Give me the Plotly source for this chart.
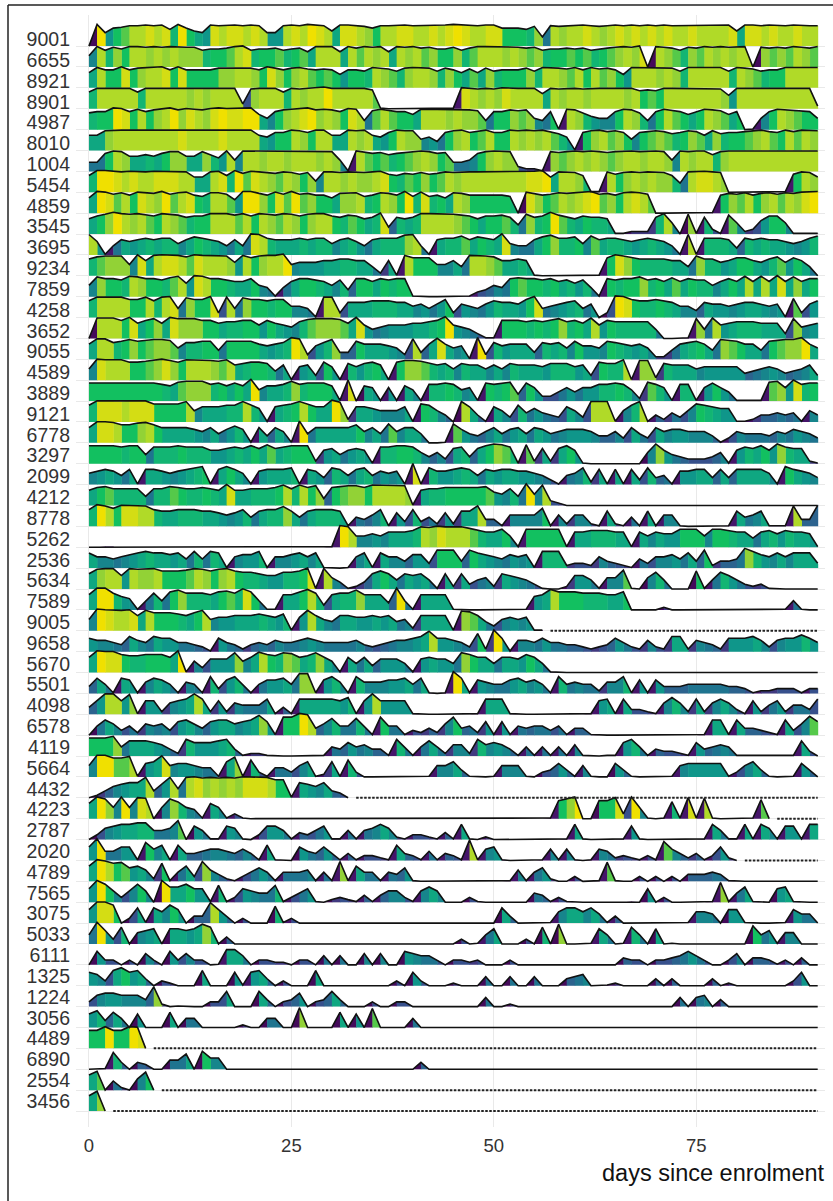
import plotly.graph_objects as go

# One hex digit per day: it sets ridge height and fill colour.
v_9001 = "0f7abddede 9fa87edeed ed77dedfed 8eedcaddee ddedefedde eaaa9c5dcd dedcdedede deddedddde 8eededdedd d"
v_6655 = "6d9caddcdc dccc9aabde 9aab9ab8dd d8dbdcd8dc dbcaac9bdd dcdcbc9aab ab9abcdce0 dcb9cbdcdc dd0cbcbdcb d"
v_8921 = "8daaeacdde aeaaaaccdd caecacdbab a7aa9dcb9c ddc9ca8b8c 9aaac9ddcb dadbca7ddd cdc9ddddd9 dcb9aadddd d"
v_8901 = "9ddddd9ddd ddcdcdddd3 cddd9dcddf dddddb1000 000001edcd cedddd8dcd dcddddcdab adddddddc7 dddddddddd 2"
v_4987 = "9aafeadacd fcedcefeef f86acdefcd caed5bdbaa 8dddcdccb5 aacbc65a1d c9766adc95 adba8adcb8 a016adcbaa 6"
v_8010 = "88cddddddd deddddeddd d87aadcadd 88dcd87adc c675acdabd aadcdcdb97 1acdbca6ab cb9acb8c9a abcdbadbdc c"
v_1004 = "55adc8898a cc88c97d6d dcddcdddcd c61dbab9ab cdcab556ac dcc3221cbc dcdcbcddcd dc6dcdd9cd dddddddddd d"
v_5454 = "9ffededdee edd88de9fb edcbdcac6d dcdccdea9b acabdcdddd ddddeef8dd c911dacdcd cc95deedc0 0000001adc 8"
v_4859 = "8febdaedcf bdea9ddb7f fcaebfbcaa 8ccd9adcaf 9e9a8dcaaa aa90ecabdc defbcadedb 00000001ac bdacdbdcef f"
v_3545 = "8acfdcdbad cb9aadddbd adcbdcacdd a9ba89e498 9ddddcba8a ab95c9afb9 8a99811222 9d60c1931b 6237aa6111 1"
v_3695 = "d715878989 968a987585 ed98889899 689758999c d51899b8a9 8e6558ac99 a6b8998789 8751d19998 4989887679 b"
v_9234 = "9bccc6e8de edbedddc7d acddf67778 899885281d aaa6685ddc b889810000 0001aeca99 99885c9978 aa879b7a85 0"
v_7859 = "6caa9dcaa9 bd7edaa988 a65158aa98 694aa8a9aa 1000000134 65abaa9a89 7951a9aac9 a8b8a9968a 8d8d8e8c8a a"
v_4258 = "9ddddaad9d e5caae3d5c aa9aa6651d d388899988 6757a37657 9887ae5678 95703fea99 a986648776 7887671b37 9"
v_3652 = "0dddae8ac8 ecccaa899a a7a8769bcc cb8e756777 889af76531 1aaa9a9ac9 a8d7a99999 50001c5d78 9998883c67 8"
v_9055 = "8dd9acabcc b699aa5aaa a8789fd379 c44a888763 d48e8671f3 9788849896 a776a98786 22589a85cb a885abccf8 6"
v_4589 = "6edddaabce cadddcbd89 aa9581783a 71979a81ac cb98969886 8698887999 783a99d1cc 2988867777 7456764568 3"
v_3889 = "aaaaaaaaa9 8bccc9a8a8 f6889c9aaa 81e0871718 6199a9671a 9ab4a73357 57799a962b 9719917a75 1111bc7e9a a"
v_9121 = "9eeedeeeaa aad688899d 97189ada88 fc28876668 1a9640d841 8639575438 63ddd169d1 42536a9877 1124454516 4"
v_6778 = "8eedaacda8 8887685797 184861f588 888a685b68 85001b7546 8578587567 7764463853 8677666413 6555465765 3"
v_3297 = "aaaa9aa599 9a99977898 a8b89aaa27 85787199aa 964638948a cb91b2828a 7100000006 c754333461 798a7c9882 1"
v_2099 = "6787581887 6789a18a86 1788891874 9858957671 e197789858 7887765315 6928181839 4517788484 888861a876 4"
v_4212 = "8ab9999599 ba99a98e88 999ad9dac4 abccaddddc 1899aaaaab 7695f6d320"
v_8778 = "9fdaeedd98 8999887679 5899c85899 9815469173 93527288d4 416666a162 6621821518 1661000001 8568111d44 e"
v_5262 = "0011000000 0000000000 0000000000 1fd6676888 9dcedddb98 8a61aaaaa1 8899988186 877aaa6aa9 8858979887 1"
v_2536 = "8665678988 7859598167 7916678681 0016818664 773aaa4a87 6576719992 3326432153 667584a244 5c97686888 3"
v_5634 = "8cdd7dccda aabdcacda9 987799ae1d 641248a858 7851828356 2876531002 775166b106 95000a1597 5323100000"
v_7589 = "8ff9761595 ac9998ab9e a51188ad93 899c8884f5 1888810000 0000178daa a99988a000 0200000000 0000001510 0"
v_9005 = "6fedde8daa a98ad67788 8987917d86 5887787856 288881cb85 3676711"
v_9658 = "7665486587 7554317542 4546556765 5556434566 78d77653a2 f716657554 4323475326 3288265427 7786367797 5"
v_5670 = "8feea99aaa 8f163777c6 8da9cb89c8 6185847775 178775ca88 5887a851"
v_5501 = "4851871687 5165193795 157785cc17 9619666778 58101f8176 5578675195 6552669171 7444555554 4312233313 3"
v_4098 = "47dd7c1772 678d827265 5581418888 87917d7777 1000000018 8810000000 0017818332 1696282686 3172572553 8"
v_6578 = "0586352656 3786478867 8c71aafd46 955951a551 32426a4527 1715455351 4410000000 0000001881 844321836b 7"
v_4119 = "aaac588876 4297778941 2210000001 5475644195 1585266296 7641515151 6100117951 4332174565 1110000183 0"
v_5664 = "6ffbbd178e 67765518c1 9315536812 8193000000 0016684100 1666103474 1610074100 0016777771 3684100174 0"
v_4432 = "0246788d47 d5decdcdce eedaa18768 430"
v_4223 = "8fc6f6ed06 c965186131 0000000000 0000000000 0000000000 10000001ac f00aae3f61 0191e1d100 001b0"
v_2787 = "0367889955 6b07511761 0377514357 1151568621 3321418102 0000000001 8100001710 0000001851 1818617718 8"
v_2020 = "7f55771a68 1844566546 4181007547 4141332184 3151431d16 7100001616 1016523213 1b64241372 0"
v_4789 = "8fdab7862a 1583c64213 5751555615 1c18551547 1000000000 0016157200 3001b10030 3030444541"
v_7565 = "7fa636a60f 88a7719137 6559135710 2321414663 1686000310 0000054131 0000000107 03000001c1 5810078100 0"
v_3075 = "7eea038186 a7044d7403 0009130000 0000000000 0000000000 0840000168 8685140000 0000166507 7100001755 0"
v_5033 = "5f73906780 8878c90400 0000000000 0000000000 0000003015 80003090c0 0018501950 8010000000 00a5716600 0"
v_6111 = "0733030630 7363301885 0332203305 0500606007 6553033230 0030000000 0000004330 3345753003 6044313040 0"
v_1325 = "7638a78403 2000800071 7840300080 0000000030 7300020005 0050050004 5600120000 4040000402 0000000370 0"
v_1224 = "36776664c2 0100033800 0840347034 8400030033 0000000005 0020000000 0000000000 0005056040 0"
v_3056 = "7948507000 8055000002 005500c000 08070b0000 50"
v_4489 = "aafaafe0"
v_6890 = "0019404300 5580a66000 0000000000 0000000000 040"
v_2554 = "8b05206a0"
v_3456 = "8c0"

participants = ["9001","6655","8921","8901","4987","8010","1004","5454","4859","3545","3695","9234","7859",
                "4258","3652","9055","4589","3889","9121","6778","3297","2099","4212","8778","5262","2536",
                "5634","7589","9005","9658","5670","5501","4098","6578","4119","5664","4432","4223","2787",
                "2020","4789","7565","3075","5033","6111","1325","1224","3056","4489","6890","2554","3456"]
series = [v_9001,v_6655,v_8921,v_8901,v_4987,v_8010,v_1004,v_5454,v_4859,v_3545,v_3695,v_9234,v_7859,
          v_4258,v_3652,v_9055,v_4589,v_3889,v_9121,v_6778,v_3297,v_2099,v_4212,v_8778,v_5262,v_2536,
          v_5634,v_7589,v_9005,v_9658,v_5670,v_5501,v_4098,v_6578,v_4119,v_5664,v_4432,v_4223,v_2787,
          v_2020,v_4789,v_7565,v_3075,v_5033,v_6111,v_1325,v_1224,v_3056,v_4489,v_6890,v_2554,v_3456]
# day on which the dashed "no data" line starts
dash_from = {"9005":57,"4432":33,"4223":85,"2020":81,"4489":8,"2554":9,"3456":3}
x_ticks = [0,25,50,75]

LEVEL_H = [0,.03,.12,.22,.32,.42,.52,.62,.70,.77,.83,.87,.91,.94,.97,1.0]
LEVEL_C = ["#440a5a","#46156a","#413a80","#37508c","#2c638e","#1f748f","#17858c","#0f968a",
           "#0fa781","#12b573","#12c060","#55c94a","#92d236","#b0da28","#d4dd14","#f0e000"]
RIDGE = 1.04
LAST_DAY = 90
EPS = 0.06

def parse(text, pid):
    groups = text.split()
    norm = [g[:10].ljust(10, g[-1]) for g in groups[:-1]] + [groups[-1]]
    vals = [int(c,16) for c in "".join(norm)]
    if pid not in dash_from:
        vals += [0]*(LAST_DAY+1-len(vals))
    return vals[:LAST_DAY+1]

n = len(participants)
fx = [[] for _ in LEVEL_C]
fy = [[] for _ in LEVEL_C]
lx, ly, dx, dy = [], [], [], []
for i,(pid,text) in enumerate(zip(participants,series)):
    vals = parse(text,pid)
    base = n-1-i
    hs = [LEVEL_H[v]*RIDGE for v in vals]
    for d in range(len(vals)-1):
        h0,h1 = hs[d],hs[d+1]
        if h0==0 and h1==0:
            continue
        hx = max(0,h0+(h1-h0)*(1+EPS))
        k = vals[d]
        fx[k] += [d,d+1+EPS,d+1+EPS,d,d,None]
        fy[k] += [base,base,base+hx,base+h0,base,None]
    lx += list(range(len(vals)))+[None]
    ly += [base+h for h in hs]+[None]
    if pid in dash_from:
        dx += [dash_from[pid],LAST_DAY,None]
        dy += [base,base,None]

fig = go.Figure()
for k,c in enumerate(LEVEL_C):
    if fx[k]:
        fig.add_trace(go.Scatter(x=fx[k],y=fy[k],mode="none",fill="toself",fillcolor=c,
                                 hoverinfo="skip",showlegend=False))
fig.add_trace(go.Scatter(x=lx,y=ly,mode="lines",line=dict(color="#111111",width=1.6),
                         hoverinfo="skip",showlegend=False))
fig.add_trace(go.Scatter(x=dx,y=dy,mode="lines",line=dict(color="#222222",width=2,dash="2.5px,1.5px"),
                         hoverinfo="skip",showlegend=False))

L,R,T,B = 76,8,15,74
W,H = 833,1201
pw,ph = W-L-R,H-T-B
px = lambda v:(v-L)/pw
py = lambda v:(H-B-v)/ph
border = dict(type="line",xref="paper",yref="paper",line=dict(color="#222222",width=1.5))
fig.update_layout(
    width=W,height=H,autosize=False,margin=dict(l=L,r=R,t=T,b=B),
    paper_bgcolor="white",plot_bgcolor="white",showlegend=False,
    font=dict(family="Liberation Sans, Arial, sans-serif",color="#333333"),
    xaxis=dict(range=[-1.6,90.9],tickvals=x_ticks,ticktext=[str(t) for t in x_ticks],showgrid=True,
               gridcolor="#e9e9e9",gridwidth=1,zeroline=False,showline=False,ticks="",ticklabelstandoff=5,
               tickfont=dict(size=18.5,color="#333333")),
    yaxis=dict(range=[-0.766,52.49],tickvals=[n-1-i+0.33+0.15*i/(n-1) for i in range(n)],ticktext=participants,
               showgrid=False,zeroline=False,showline=False,ticks="",ticklabelstandoff=5,
               tickfont=dict(size=19.5,color="#333333"),
               minor=dict(tickvals=list(range(n)),showgrid=True,gridcolor="#e9e9e9",gridwidth=1,ticks="")),
    shapes=[dict(border,x0=px(8),x1=px(833),y0=py(5),y1=py(5)),
            dict(border,x0=px(8),x1=px(8),y0=py(5),y1=py(1201))],
    annotations=[dict(text="days since enrolment",xref="paper",yref="paper",x=px(827),y=py(1173),
                      xanchor="right",yanchor="middle",showarrow=False,font=dict(size=23.5,color="#111111"))],
)
fig.write_html("out.html",post_script="document.body.style.margin='0';document.body.style.overflow='hidden';",
               config=dict(displayModeBar=False))
